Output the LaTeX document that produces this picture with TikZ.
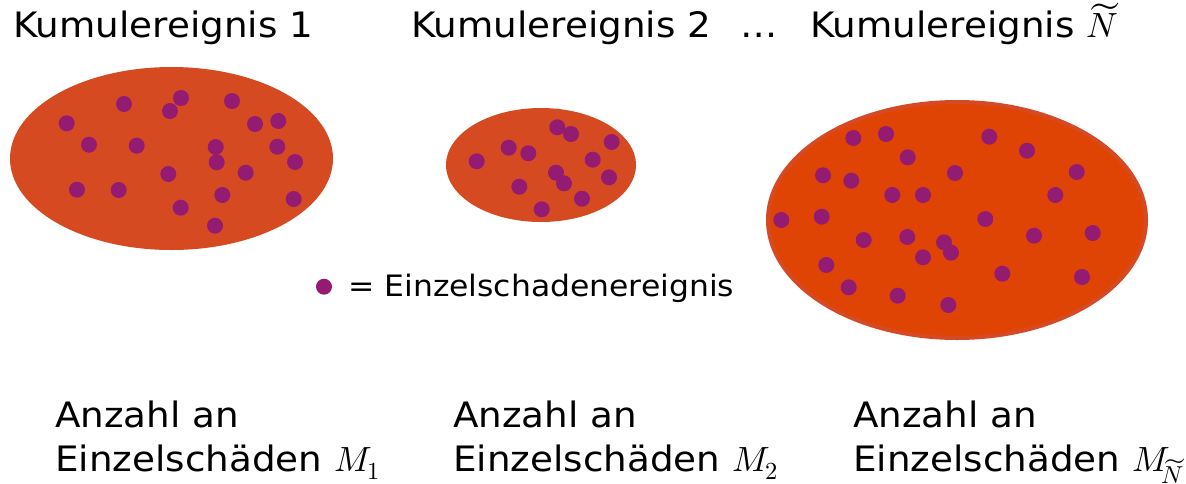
\documentclass[tikz,border=0pt]{standalone}
\usepackage{fontspec}
\usepackage{unicode-math}
\setmainfont{DejaVu Sans}[FakeStretch=1.065]
\setmathfont{Latin Modern Math}
\usetikzlibrary{shapes.geometric}
\definecolor{eventfill}{HTML}{D64A22}
\definecolor{bigfill}{HTML}{E04404}
\definecolor{bigrim}{HTML}{D54A25}
\definecolor{lossdot}{HTML}{941B72}
\tikzset{
  cloud/.style={ellipse, fill=eventfill, inner sep=0pt},
  title/.style={anchor=base west, inner sep=0pt, font=\fontsize{35}{42}\selectfont},
  caption/.style={anchor=base west, inner sep=0pt, align=left, font=\fontsize{35}{43.5}\selectfont},
  legendtext/.style={anchor=base west, inner sep=0pt, font=\fontsize{29.5}{35}\selectfont},
}
\newcommand{\lossdots}[1]{\foreach \px/\py in {#1} \fill[lossdot] (\px,\py) circle (8);}
\begin{document}
\begin{tikzpicture}[x=1pt, y=-1pt]
\useasboundingbox (0,0) rectangle (1186,483);

% the three accumulation events
\node[cloud, minimum width=323, minimum height=183] (e1) at (171.5,158.5) {};
\node[cloud, minimum width=190, minimum height=114] (e2) at (541,165) {};
\node[cloud, fill=bigfill, draw=bigrim, line width=4pt, minimum width=378, minimum height=236] (e3) at (957,220) {};

% single loss events inside each accumulation event
\lossdots{124/104, 181/98, 170/111, 232/101, 66.7/123.3, 255/124, 278.3/121,
  89/144.7, 136.7/145.7, 215.7/147, 216.7/162.3, 277.3/146.7, 295/162,
  168.3/174, 245.7/172.7, 77/189.7, 118.7/190, 222.3/195, 293.7/199,
  180.7/207.7, 215/225.7}
\lossdots{476.7/161.3, 508.7/147.7, 528.3/153.3, 557.3/127.3, 571/134,
  611.7/142, 592.7/159.7, 556/172.7, 564/183.3, 609/177.3, 519.3/186.7,
  582/198.7, 541.7/209.3}
\lossdots{853.3/138, 886/134, 989.3/136.7, 907.7/157.3, 1027/150.7,
  823/175.3, 851.3/180.7, 955/173, 1076.7/172, 892.3/195, 923/195,
  1055.3/195, 781.3/220, 821.7/216.7, 985.3/219, 863.7/240, 907.3/237,
  944/242.3, 951/252.7, 1034/235.7, 1092.7/233, 923/257.3, 826.3/265,
  1002.3/273.7, 1082/277, 848.7/287.3, 897.7/295.7, 948.3/305}

% titles
\node[title] (t1) at (13,37.5) {Kumulereignis 1};
\node[title] (t2) at (411,37.5) {Kumulereignis 2\hspace{0.5em} …};
\node[title] (t3) at (810,37.5) {Kumulereignis $\widetilde{N}$};

% legend
\fill[lossdot] (324,286.7) circle (8) coordinate (ld);
\node[legendtext] (lt) at (348,296) {= Einzelschadenereignis};

% captions (base anchor sits on the second line)
\node[caption] (c1) at (55,471) {Anzahl an\\Einzelschäden $M_1$};
\node[caption] (c2) at (453,471) {Anzahl an\\Einzelschäden $M_2$};
\node[caption] (c3) at (853,471) {Anzahl an\\Einzelschäden $M_{\!\widetilde{N}}$};
\end{tikzpicture}
\end{document}
